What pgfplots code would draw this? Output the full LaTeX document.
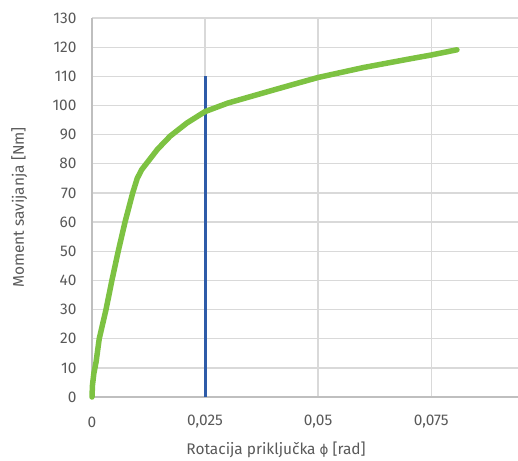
\documentclass[border=0pt]{standalone}
\usepackage{pgfplots}
\pgfplotsset{compat=1.18}
\usepackage{fontspec}
\setmainfont{Fira Sans}
\newfontfamily\djfont{DejaVu Sans}
\definecolor{txt}{HTML}{595959}
\definecolor{gridc}{HTML}{D9D9D9}
\definecolor{axc}{HTML}{BFBFBF}
\definecolor{lgreen}{HTML}{7DC242}
\definecolor{lblue}{HTML}{2E5BA8}
\begin{document}
\begin{tikzpicture}
\begin{axis}[
  scale only axis,
  width=426bp, height=379bp,
  xmin=0, xmax=0.0942,
  ymin=0, ymax=130,
  axis x line=bottom, axis y line=left,
  axis line style={axc, line width=1.3bp, -},
  xtick={0,0.025,0.05,0.075},
  xticklabels={0,{0,025},{0,05},{0,075}},
  scaled x ticks=false,
  ytick={0,10,...,130},
  major tick length=0pt,
  grid=major,
  major grid style={gridc, line width=1.3bp},
  /pgf/number format/assume math mode=true,
  tick label style={font=\fontsize{15.5}{17}\selectfont, text=txt},
  xticklabel style={anchor=center, yshift=-25bp},
  yticklabel style={anchor=east, xshift=-12bp},
  label style={font=\fontsize{15.5}{17}\selectfont, text=txt},
  xlabel={Rotacija priključka {\djfont\fontsize{13.5}{17}\selectfont ϕ} [rad]},
  ylabel={Moment savijanja [Nm]},
  xlabel style={at={(axis description cs:0.432,-0.140)}, anchor=center},
  ylabel style={at={(axis description cs:-0.171,0.5)}, anchor=center},
  clip=false,
]
\coordinate (bl) at (rel axis cs:0,0);
\coordinate (tr) at (rel axis cs:1,1);
\addplot[lblue, line width=3bp] coordinates {(0.025,0) (0.025,110.2)};
\addplot[lgreen, line width=5.5bp, line cap=round, line join=round] coordinates {
(0,0) (0.0001,4) (0.0004,8) (0.0009,12) (0.0016,20) (0.0031,30) (0.0044,40) (0.0058,50)
(0.0073,60) (0.0090,70) (0.0100,75) (0.0110,78) (0.0125,81) (0.0145,85) (0.0173,89.5)
(0.0210,94) (0.0250,97.9) (0.0300,100.8) (0.0372,104) (0.0440,107) (0.0500,109.6)
(0.0600,113) (0.0700,115.9) (0.0750,117.3) (0.0807,119.1)};
\end{axis}
\pgfresetboundingbox
\path (bl) ++(-92bp,-63bp) coordinate (A);
\path (tr) ++(0bp,18bp) coordinate (B);
\path[use as bounding box] (A) rectangle (B);
\end{tikzpicture}
\end{document}
